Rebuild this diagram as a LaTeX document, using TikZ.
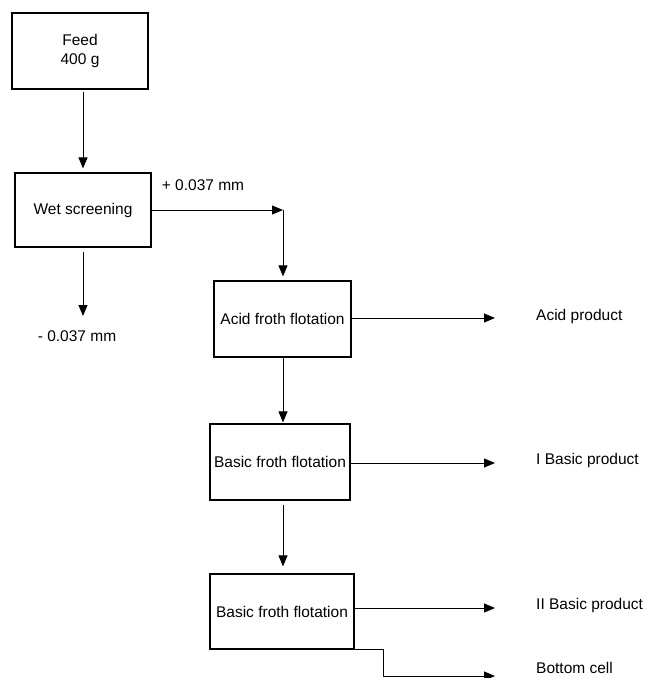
\documentclass[tikz,border=0pt]{standalone}
\usepackage{fontspec}
\setmainfont{Liberation Sans}
\usetikzlibrary{arrows.meta}
\begin{document}
\begin{tikzpicture}[x=1pt,y=-1pt,
  box/.style={draw,line width=1.1pt,minimum width=#1,inner sep=0pt,font=\fontsize{15.5}{18.5}\selectfont,align=center},
  lbl/.style={inner sep=0pt,font=\fontsize{15.5}{18.5}\selectfont},
  flow/.style={line width=0.9pt,-{Triangle[length=11pt,width=9pt]}},
  plain/.style={line width=0.9pt}]
\useasboundingbox (0,0) rectangle (648,678);
\node[box=136pt,minimum height=76pt] (feed) at (80,51) {Feed\\400 g};
\node[box=136pt,minimum height=74pt] (wet) at (83,210) {Wet screening};
\node[box=137pt,minimum height=76pt] (acid) at (282.5,319) {Acid froth flotation};
\node[box=140pt,minimum height=76pt] (basicA) at (280,462) {Basic froth flotation};
\node[box=144pt,minimum height=75pt] (basicB) at (282,611.5) {Basic froth flotation};
\coordinate (plus) at (283,210);
\coordinate (minus) at (83,316);
\coordinate (acidend) at (495,318);
\coordinate (basAend) at (495,463);
\coordinate (basBend) at (495,608);
\coordinate (b0) at (283,649);
\coordinate (b1) at (383,649);
\coordinate (b2) at (383,676);
\coordinate (botend) at (495,676);
\node[lbl] (plbl) at (203,185) {+ 0.037 mm};
\node[lbl] (mlbl) at (77,336) {- 0.037 mm};
\node[lbl,anchor=west] (acidp) at (536,316) {Acid product};
\node[lbl,anchor=west] (basp1) at (536,460) {I Basic product};
\node[lbl,anchor=west] (basp2) at (536,605) {II Basic product};
\node[lbl,anchor=west] (bottom) at (536,668) {Bottom cell};
\draw[flow,shorten <=2pt,shorten >=4pt] (feed.south -| wet.north) -- (wet.north);
\draw[flow] (wet.east) -- (plus);
\draw[flow,shorten >=4pt] (plus) -- (plus |- acid.north);
\draw[flow,shorten <=4pt] (wet.south) -- (minus);
\draw[flow] (acid.east |- acidend) -- (acidend);
\draw[flow,shorten >=1pt] (acid.south -| plus) -- (plus |- basicA.north);
\draw[flow] (basicA.east |- basAend) -- (basAend);
\draw[flow,shorten <=4pt,shorten >=7pt] (basicA.south -| plus) -- (plus |- basicB.north);
\draw[flow] (basicB.east |- basBend) -- (basBend);
\draw[flow] (b0) -- (b1) -- (b2) -- (botend);
\end{tikzpicture}
\end{document}
